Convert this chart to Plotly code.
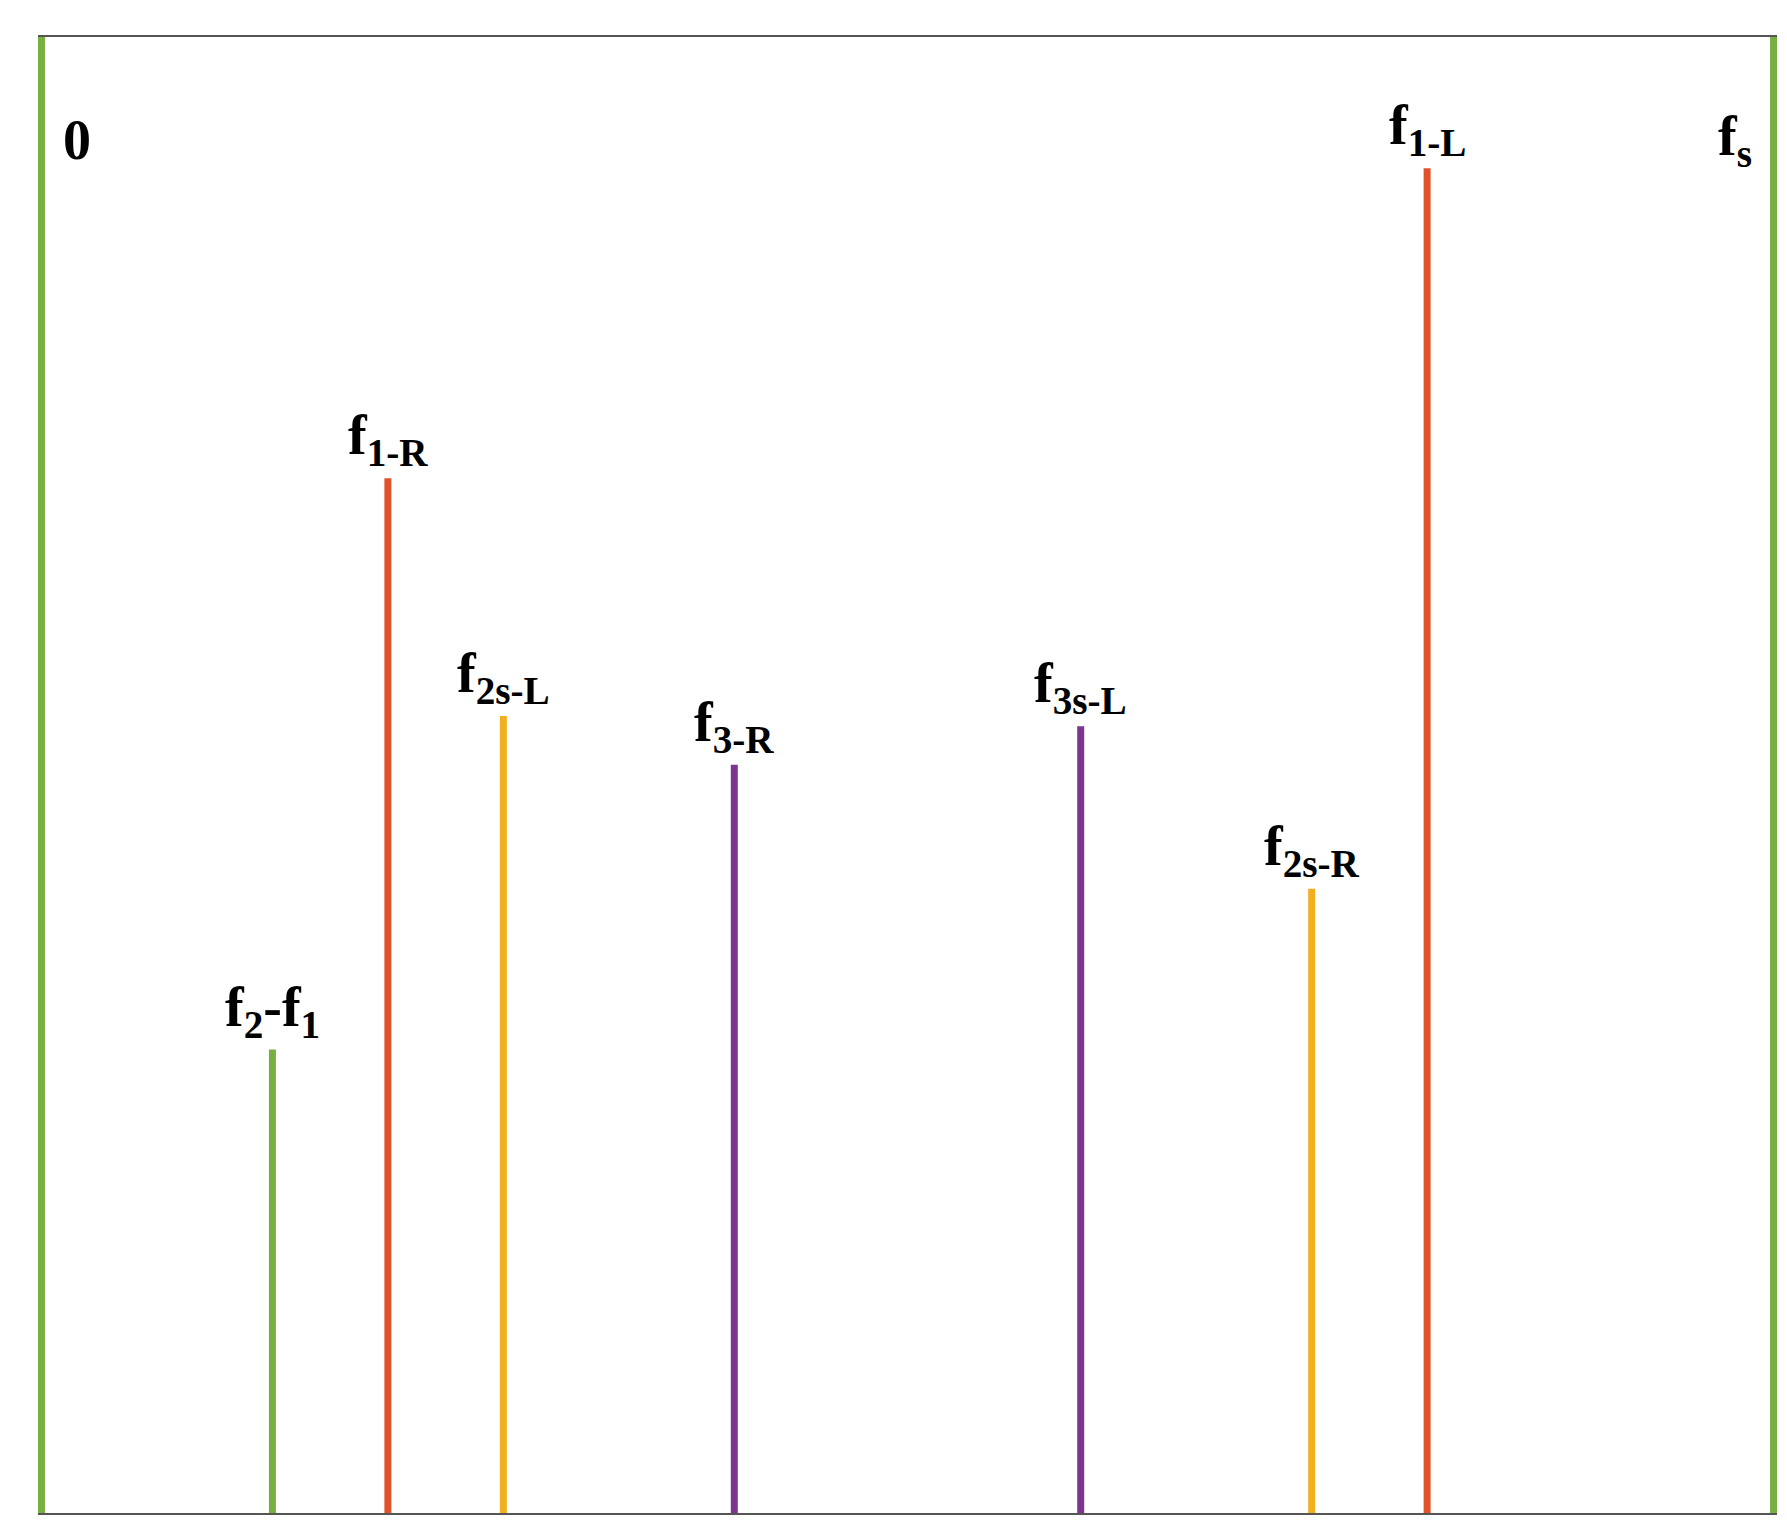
import plotly.graph_objects as go

# stem positions (in units of the frequency axis, 0..fs) and heights
labels = ["0", "f<sub>2</sub>-f<sub>1</sub>", "f<sub>1-R</sub>", "f<sub>2s-L</sub>", "f<sub>3-R</sub>",
          "f<sub>3s-L</sub>", "f<sub>2s-R</sub>", "f<sub>1-L</sub>", "f<sub>s</sub>"]
positions = [0, 2, 3, 4, 6, 9, 11, 12, 15]
heights = [1.0, 0.314, 0.701, 0.540, 0.507, 0.533, 0.423, 0.911, 1.0]
colors = ["#77b041", "#77b041", "#e0522a", "#f0b020", "#7d3590",
          "#7d3590", "#f0b020", "#e0522a", "#77b041"]

fig = go.Figure()
for lab, x, h, c in zip(labels, positions, heights, colors):
    fig.add_trace(go.Scatter(x=[x, x], y=[0, h], mode="lines",
                             line=dict(color=c, width=7),
                             showlegend=False, hoverinfo="skip"))
    if lab == "0":
        fig.add_annotation(x=x, y=0.93, text="<b>0</b>", showarrow=False,
                           xanchor="left", xshift=20)
    elif lab == "f<sub>s</sub>":
        fig.add_annotation(x=x, y=0.93, text="<b>" + lab + "</b>", showarrow=False,
                           xanchor="right", xshift=-20)
    else:
        fig.add_annotation(x=x, y=h, text="<b>" + lab + "</b>", showarrow=False,
                           yanchor="bottom", yshift=2)

fig.update_annotations(font=dict(family="Liberation Serif", size=56, color="black"))
fig.update_xaxes(range=[-0.03, 15.03], showgrid=False, zeroline=False, showticklabels=False,
                 ticks="", showline=True, mirror=True, linecolor="#555555", linewidth=2)
fig.update_yaxes(range=[0, 1], showgrid=False, zeroline=False, showticklabels=False,
                 ticks="", showline=False)
fig.update_layout(width=1787, height=1525, plot_bgcolor="white", paper_bgcolor="white",
                  margin=dict(l=30, r=18, t=29, b=20))
fig.write_html("out.html")
